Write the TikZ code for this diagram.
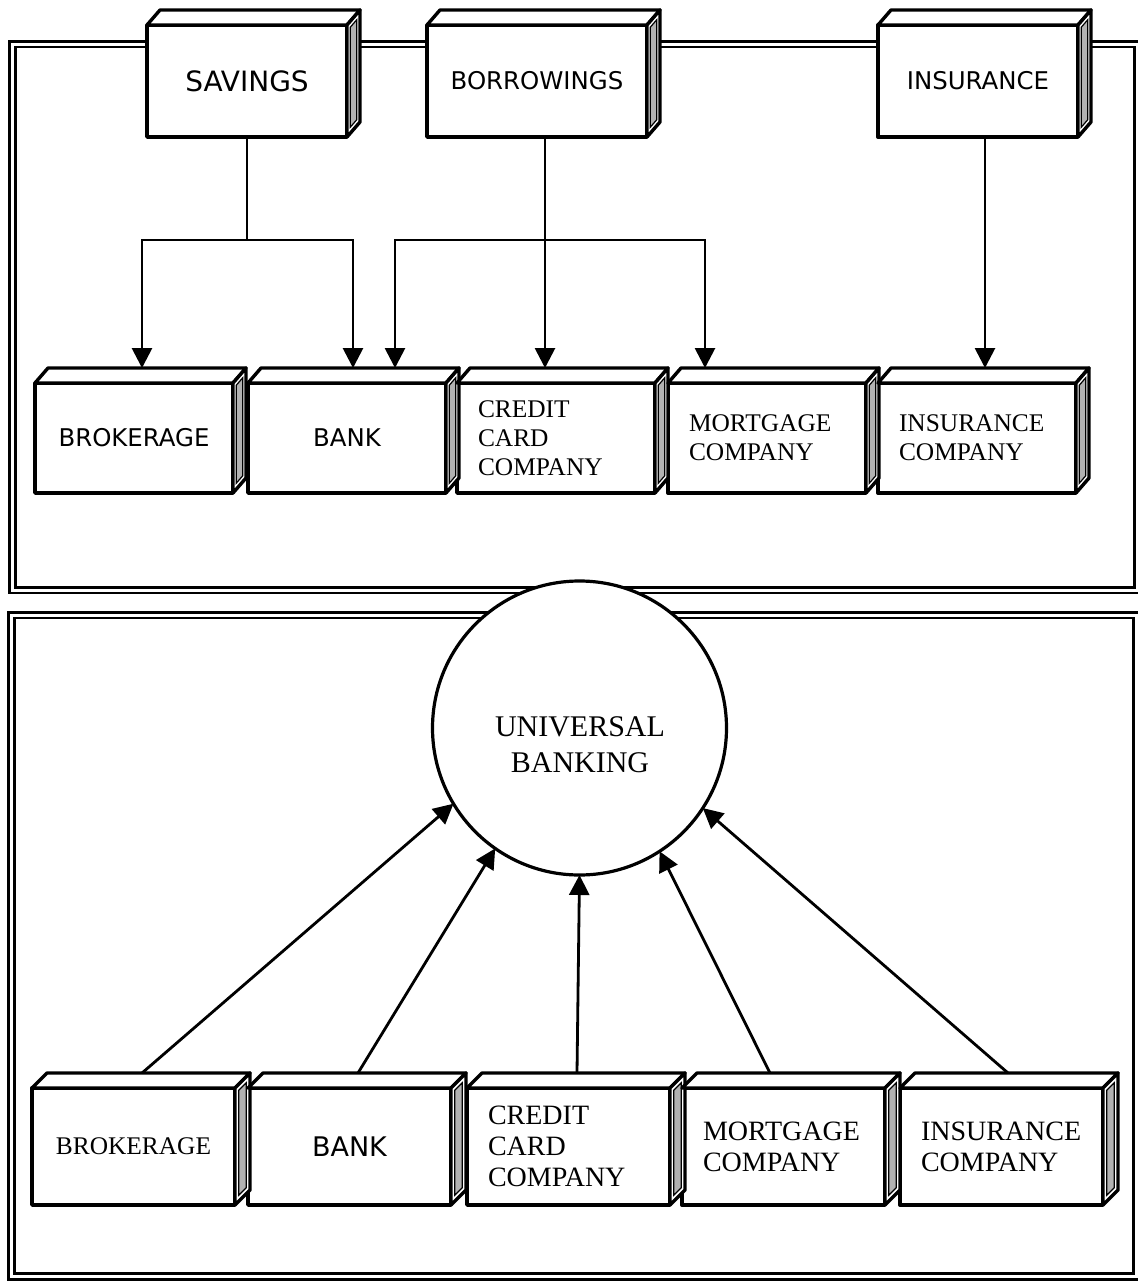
\documentclass[tikz,border=0pt]{standalone}
\usepackage{fontspec}
\setmainfont{Liberation Serif}
\newfontfamily\sansf{DejaVu Sans}
\usetikzlibrary{arrows.meta,calc}

% top face and right side face (with recessed shaded panel) of a box node
\newcommand\boxfaces[3]{%
  \draw[face] (#1.north west) -- ++(#2,#3) -- ($(#1.north east)+(#2,#3)$) -- (#1.north east) -- cycle;
  \draw[face] (#1.north east) -- ($(#1.north east)+(#2,#3)$) -- ($(#1.south east)+(#2,#3)$) -- (#1.south east) -- cycle;
  \draw[panel] ($(#1.north east)+(0.25*#2,0.25*#3+6)$) -- ($(#1.north east)+(0.75*#2,0.75*#3+6)$)
     -- ($(#1.south east)+(0.75*#2,0.75*#3-6)$) -- ($(#1.south east)+(0.25*#2,0.25*#3-6)$) -- cycle;
}

\begin{document}
\begin{tikzpicture}[x=0.5pt,y=-0.5pt,
  ln/.style={line width=1.4pt},
  arr/.style={line width=1.4pt,-{Triangle[width=10pt,length=10pt]}},
  frame/.style={draw=black,double=white,line width=1.4pt,double distance=1.5pt},
  face/.style={draw=black,line width=1.7pt,fill=white,line join=round},
  panel/.style={draw=black,line width=0.6pt,fill=gray!60},
  cube/.style 2 args={face,outer sep=0pt,inner ysep=0pt,minimum width=#1,minimum height=#2},
  topsans/.style={font=\sansf\fontsize{12.2}{14}\selectfont},
  upserif/.style={font=\fontsize{12.7}{14.5}\selectfont,align=left,text width=78pt,inner xsep=10.5pt},
  lowserif/.style={font=\fontsize{14}{15.5}\selectfont,align=left,text width=80.5pt,inner xsep=10.5pt}
]
\useasboundingbox (0,0) rectangle (1138,1285);

% the two double-lined panels
\draw[frame] (12.5,44) rectangle (1137,590);
\draw[frame] (11.5,615) rectangle (1136,1276.5);

% ---- upper panel: product categories
\node[cube={100pt}{56pt},font=\sansf\fontsize{14}{16}\selectfont] (sav) at (247,81) {SAVINGS};
\node[cube={110pt}{56pt},topsans] (bor) at (537,81) {BORROWINGS};
\node[cube={100pt}{56pt},topsans] (ins) at (978,81) {INSURANCE};
\boxfaces{sav}{13}{-15}
\boxfaces{bor}{13}{-15}
\boxfaces{ins}{13}{-15}

% ---- upper panel: separate institutions
\node[cube={99pt}{55pt},topsans] (brok1) at (134,438) {BROKERAGE};
\node[cube={99pt}{55pt},topsans] (bank1) at (347,438) {BANK};
\node[cube={99pt}{55pt},upserif] (cc1) at (556,438) {CREDIT\\CARD\\COMPANY};
\node[cube={99pt}{55pt},upserif] (mort1) at (767,438) {MORTGAGE\\COMPANY};
\node[cube={99pt}{55pt},upserif] (ic1) at (977,438) {INSURANCE\\COMPANY};
\foreach \n in {brok1,bank1,cc1,mort1,ic1} {\boxfaces{\n}{13}{-15}}

\coordinate (brok1in) at ($(brok1.north)+(8,-15)$);
\coordinate (bank1inA) at ($(bank1.north)+(6,-15)$);
\coordinate (bank1inB) at ($(bank1.north)+(48,-15)$);
\coordinate (cc1in) at ($(cc1.north)+(-11,-15)$);
\coordinate (mort1in) at ($(mort1.north)+(-62,-15)$);
\coordinate (ic1in) at ($(ic1.north)+(8,-15)$);
\coordinate (sj) at ($(sav.south)+(0,103)$);
\coordinate (bs) at ($(bor.south)+(8,0)$);
\coordinate (bj) at ($(bor.south)+(8,103)$);
\coordinate (is) at ($(ins.south)+(7,0)$);

\draw[ln] (sav.south) -- (sj);
\draw[arr] (sj) -| (brok1in);
\draw[arr] (sj) -| (bank1inA);
\draw[arr] (bs) -- (cc1in);
\draw[arr] (bj) -| (bank1inB);
\draw[arr] (bj) -| (mort1in);
\draw[arr] (is) -- (ic1in);

% ---- lower panel: universal banking
\node[circle,draw=black,line width=1.6pt,fill=white,minimum size=147pt,inner sep=0pt,outer sep=0pt] (ub) at (579.5,728) {};
\node[font=\fontsize{15}{18}\selectfont,align=center] (ubt) at (580,745) {UNIVERSAL\\BANKING};

\node[cube={101.5pt}{58.5pt},font=\fontsize{12.7}{14}\selectfont] (brok2) at (133.5,1146.5) {BROKERAGE};
\node[cube={101.5pt}{58.5pt},font=\sansf\fontsize{13.5}{15}\selectfont] (bank2) at (349.5,1146.5) {BANK};
\node[cube={101.5pt}{58.5pt},lowserif] (cc2) at (568.5,1146.5) {CREDIT\\CARD\\COMPANY};
\node[cube={101.5pt}{58.5pt},lowserif] (mort2) at (783.5,1146.5) {MORTGAGE\\COMPANY};
\node[cube={101.5pt}{58.5pt},lowserif] (ic2) at (1001.5,1146.5) {INSURANCE\\COMPANY};
\foreach \n in {brok2,bank2,cc2,mort2,ic2} {\boxfaces{\n}{15}{-15}}

\coordinate (brok2out) at ($(brok2.north)+(8.5,-15)$);
\coordinate (bank2out) at ($(bank2.north)+(8.5,-15)$);
\coordinate (cc2out) at ($(cc2.north)+(8.5,-15)$);
\coordinate (mort2out) at ($(mort2.north)+(-13.5,-15)$);
\coordinate (ic2out) at ($(ic2.north)+(6.5,-15)$);

\draw[arr] (brok2out) -- (ub.211.5);
\draw[arr] (bank2out) -- (ub.235);
\draw[arr] (cc2out) -- (ub.270);
\draw[arr] (mort2out) -- (ub.303);
\draw[arr] (ic2out) -- (ub.327.5);
\end{tikzpicture}
\end{document}
